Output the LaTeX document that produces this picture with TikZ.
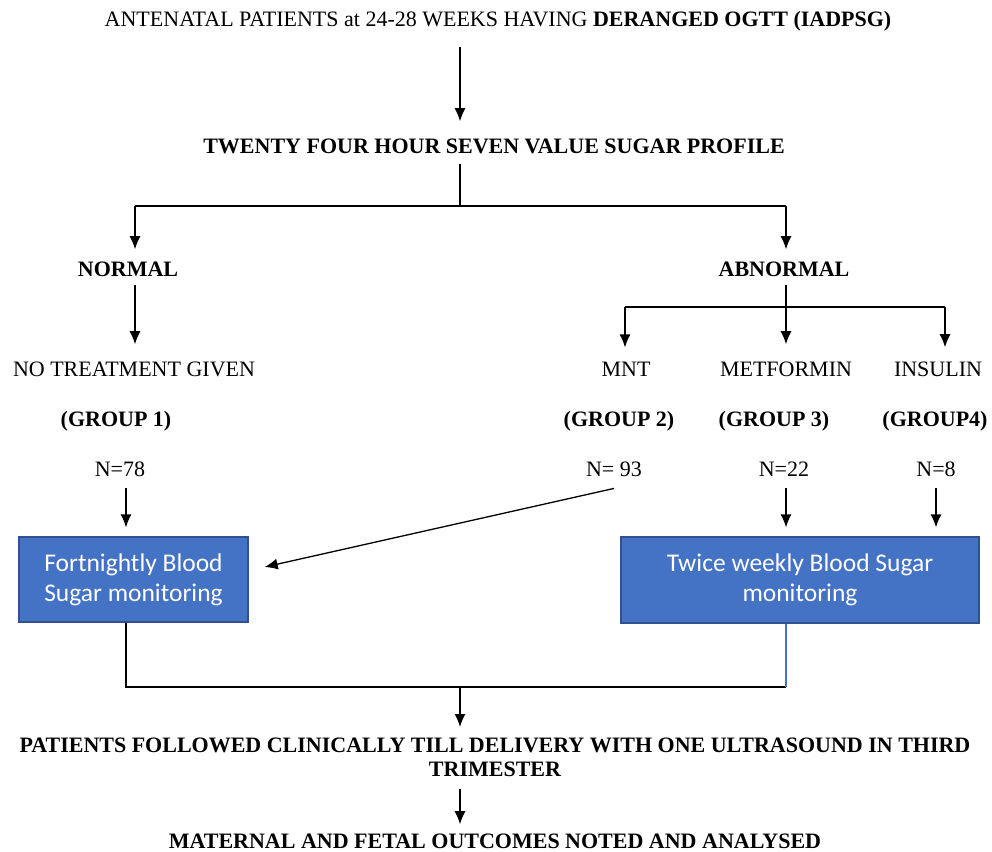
\documentclass[tikz,border=0pt]{standalone}
\usepackage{fontspec}
\setmainfont{Liberation Serif}
\newfontfamily\boxfont{Carlito}
\usetikzlibrary{arrows.meta}

\definecolor{boxblue}{HTML}{4472C4}
\definecolor{boxedge}{HTML}{2F528F}

\tikzset{
  txt/.style={inner sep=0pt, font=\fontsize{22}{24}\selectfont},
  bold/.style={txt, font=\fontsize{22}{24}\selectfont\bfseries},
  arr/.style={-{Latex[length=13pt,width=11pt]}, line width=1.3pt},
  monitor/.style={draw=boxedge, fill=boxblue, line width=1.3pt, text=white,
    align=center, inner sep=0pt, font=\boxfont\fontsize{25.5}{30}\selectfont}
}

\begin{document}
\begin{tikzpicture}[x=1pt,y=-1pt]

  \useasboundingbox (0,0) rectangle (992,851);

  % junctions and columns
  \coordinate (split) at (460,206);
  \coordinate (barL) at (135,206);
  \coordinate (barR) at (786,206);
  \coordinate (forkL) at (625,307);
  \coordinate (forkR) at (945,307);
  \coordinate (colL) at (126,0);
  \coordinate (merge) at (460,687);

  % text rows
  \node[txt, anchor=base] (title) at (498,27)
    {ANTENATAL PATIENTS at 24-28 WEEKS HAVING \textbf{DERANGED OGTT (IADPSG)}};
  \node[bold, anchor=base] (profile) at (494,153)
    {TWENTY FOUR HOUR SEVEN VALUE SUGAR PROFILE};
  \node[bold, anchor=base] (normal) at (128,276) {NORMAL};
  \node[bold, anchor=base] (abnormal) at (784,276) {ABNORMAL};

  \node[txt, anchor=base] (notreat) at (134,376) {NO TREATMENT GIVEN};
  \node[txt, anchor=base] (mnt) at (626,376) {MNT};
  \node[txt, anchor=base] (metformin) at (786,376) {METFORMIN};
  \node[txt, anchor=base] (insulin) at (938,376) {INSULIN};

  \node[bold, anchor=base] (group1) at (116,426) {(GROUP 1)};
  \node[bold, anchor=base] (group2) at (619,426) {(GROUP 2)};
  \node[bold, anchor=base] (group3) at (774,426) {(GROUP 3)};
  \node[bold, anchor=base] (group4) at (935,426) {(GROUP4)};

  \node[txt, anchor=base] (n78) at (120,476) {N=78};
  \node[txt, anchor=base] (n93) at (614,476) {N= 93};
  \node[txt, anchor=base] (n22) at (784,476) {N=22};
  \node[txt, anchor=base] (n8) at (936,476) {N=8};

  % monitoring boxes
  \node[monitor, minimum width=229pt, minimum height=85pt] (fortnight)
    at (133.5,579.5) {Fortnightly Blood\\Sugar monitoring};
  \node[monitor, minimum width=358pt, minimum height=86pt] (twice)
    at (800,580) {Twice weekly Blood Sugar\\monitoring};

  \node[bold, anchor=north, align=center] (followed) at (495,738)
    {PATIENTS FOLLOWED CLINICALLY TILL DELIVERY WITH ONE ULTRASOUND IN THIRD\\TRIMESTER};
  \node[bold, anchor=base] (outcome) at (495,848)
    {MATERNAL AND FETAL OUTCOMES NOTED AND ANALYSED};

  % connectors
  \draw[arr, shorten <=15pt, shorten >=17pt] (title.south -| split) -- (profile.north -| split);
  \draw[line width=1.3pt, shorten <=10pt] (profile.south -| split) -- (split);
  \draw[line width=2.4pt] (barL) -- (barR);
  \draw[arr, shorten >=12pt] (barL) -- (normal.north -| barL);
  \draw[arr, shorten >=12pt] (barR) -- (abnormal.north -| barR);

  \draw[arr, shorten <=9pt, shorten >=17pt] (normal.south -| barL) -- (notreat.north -| barL);
  \draw[arr, shorten <=9pt, shorten >=17pt] (abnormal.south -| barR) -- (metformin.north -| barR);
  \draw[line width=1.3pt] (forkL) -- (forkR);
  \draw[arr, shorten >=14pt] (forkL) -- (mnt.north -| forkL);
  \draw[arr, shorten >=14pt] (forkR) -- (insulin.north -| forkR);

  \draw[arr, shorten <=12pt, shorten >=9pt] (n78.south -| colL) -- (fortnight.north -| colL);
  \draw[arr, shorten <=12pt, shorten >=9pt] (n22.south -| barR) -- (twice.north -| barR);
  \draw[arr, shorten <=12pt, shorten >=9pt] (n8.south) -- (n8.south |- twice.north);
  \draw[arr] ([yshift=-12pt]n93.south) -- ([xshift=16pt,yshift=12.5pt]fortnight.east);

  \draw[line width=1.3pt] (fortnight.south -| colL) |- (merge) -- (barR |- merge);
  \draw[line width=1.3pt, boxblue] (twice.south -| barR) -- (barR |- merge);
  \draw[arr, shorten >=11pt] (merge) -- (followed.north -| merge);
  \draw[arr, shorten <=12pt, shorten >=9pt] (followed.south -| merge) -- (outcome.north -| merge);

\end{tikzpicture}
\end{document}
